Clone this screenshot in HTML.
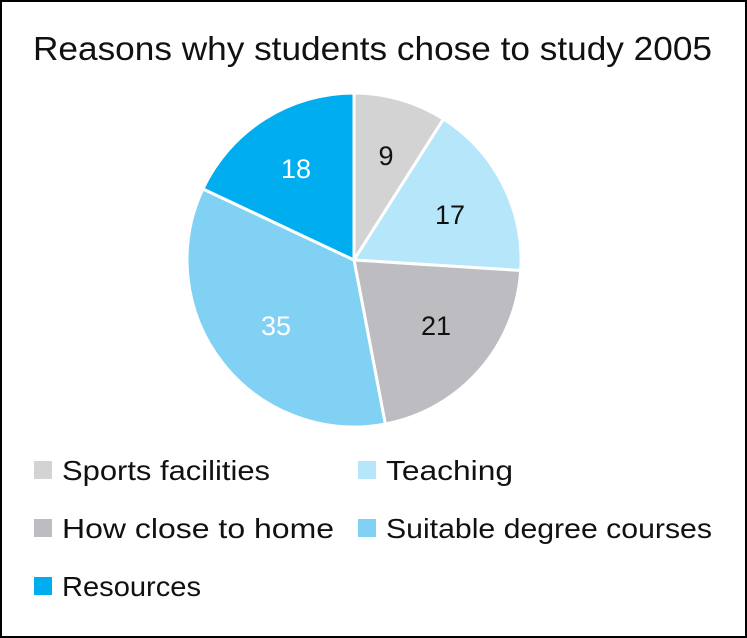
<!DOCTYPE html>
<html><head><style>
body{margin:0;background:#fff;}
svg{display:block;}
text{font-family:"Liberation Sans",sans-serif;}
</style></head><body>
<svg width="747" height="638" viewBox="0 0 747 638">
<rect x="1" y="1" width="745" height="636" fill="#fff" stroke="#000" stroke-width="2"/>
<text x="33" y="60" font-size="33" textLength="679" lengthAdjust="spacingAndGlyphs" fill="#111">Reasons why students chose to study 2005</text>
<g stroke="#fff" stroke-width="3" stroke-linejoin="round">
<path d="M354,260 L354,93 A167,167 0 0 1 443.5,119 Z" fill="#d3d3d3"/>
<path d="M354,260 L443.5,119 A167,167 0 0 1 520.7,270.5 Z" fill="#b5e6f9"/>
<path d="M354,260 L520.7,270.5 A167,167 0 0 1 385.3,424 Z" fill="#bdbcc0"/>
<path d="M354,260 L385.3,424 A167,167 0 0 1 202.9,188.9 Z" fill="#80d1f3"/>
<path d="M354,260 L202.9,188.9 A167,167 0 0 1 354,93 Z" fill="#00aeef"/>
</g>
<g font-size="27" text-anchor="middle">
<text x="386" y="165" fill="#111">9</text>
<text x="450" y="224" fill="#111">17</text>
<text x="436" y="335" fill="#111">21</text>
<text x="276" y="335" fill="#fff">35</text>
<text x="296" y="178" fill="#fff">18</text>
</g>
<g font-size="28" fill="#111" lengthAdjust="spacingAndGlyphs">
<rect x="34" y="461" width="18" height="18" fill="#d3d3d3"/>
<text x="62" y="480" textLength="208" lengthAdjust="spacingAndGlyphs">Sports facilities</text>
<rect x="358" y="461" width="18" height="18" fill="#b5e6f9"/>
<text x="386" y="480" textLength="127" lengthAdjust="spacingAndGlyphs">Teaching</text>
<rect x="34" y="519" width="18" height="18" fill="#bdbcc0"/>
<text x="62" y="538" textLength="272" lengthAdjust="spacingAndGlyphs">How close to home</text>
<rect x="358" y="519" width="18" height="18" fill="#80d1f3"/>
<text x="386" y="538" textLength="326" lengthAdjust="spacingAndGlyphs">Suitable degree courses</text>
<rect x="34" y="577" width="18" height="18" fill="#00aeef"/>
<text x="62" y="596" textLength="139" lengthAdjust="spacingAndGlyphs">Resources</text>
</g>
</svg>
</body></html>
